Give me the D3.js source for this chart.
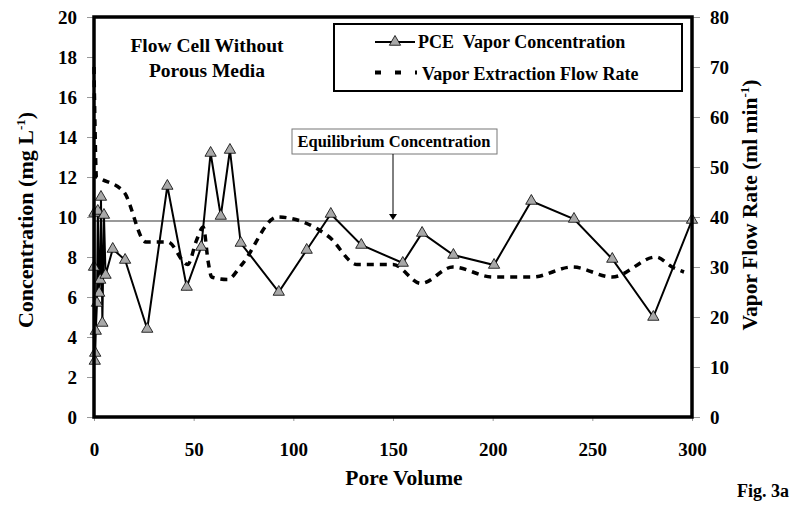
<!DOCTYPE html>
<html><head><meta charset="utf-8">
<script src="https://cdn.jsdelivr.net/npm/d3@7"></script>
<style>body{margin:0;background:#fff}svg{display:block}</style>
</head><body>
<svg id="c" width="800" height="510" style="font-family:'Liberation Serif','Times New Roman',Tinos,'DejaVu Serif',serif;font-weight:bold"></svg>
<script>
// PCE vapor concentration (mg/L) vs pore volume
const pceX = [0.0,0.2,0.4,0.6,0.9,1.5,1.9,2.6,3.1,3.5,4.2,5.0,5.8,9.4,15.6,26.7,36.8,46.5,53.8,58.5,63.6,68.2,73.6,92.7,106.7,118.8,134.1,154.9,164.6,180.3,200.7,219.4,240.8,260.0,280.6,300.0];
const pceY = [7.5,10.2,2.8,3.2,4.3,5.7,10.3,6.2,6.85,11.0,4.7,10.1,7.1,8.4,7.85,4.4,11.55,6.5,8.5,13.2,10.05,13.35,8.7,6.25,8.35,10.15,8.6,7.7,9.2,8.1,7.6,10.8,9.9,7.9,5.0,9.85];
// Vapor extraction flow rate (ml/min)
const flowX = [0,0.5,1.2,4,15,26,37,47,51.5,54.8,57.3,59,67,74,92,118,132,150,164,180,200,220,240,260,282,290,296];
const flowY = [70,58,48,47.5,45,35,35,30.5,35.4,38,31,28,27.5,30.4,40,36,30.5,30.5,26.7,30,28,28,30,28,32,30,29];
const equilibrium = 9.8;
const xTicks = [0,50,100,150,200,250,300];
const yTicks = [0,2,4,6,8,10,12,14,16,18,20];
const y2Ticks = [0,10,20,30,40,50,60,70,80];

const FONT = "'Liberation Serif','Times New Roman',Tinos,'DejaVu Serif',serif";
const svg = d3.select("#c");
const L=94,R=692,T=17,B=417;
const x = d3.scaleLinear().domain([0,300]).range([L,R]);
const y = d3.scaleLinear().domain([0,20]).range([B,T]);
const y2 = d3.scaleLinear().domain([0,80]).range([B,T]);

function txt(sel){ return sel.attr("font-family",FONT).attr("font-weight","bold").attr("fill","#000"); }

// axes
const ax = svg.append("g").attr("transform",`translate(0,${B})`).call(d3.axisBottom(x).tickValues(xTicks).tickSize(4).tickPadding(22));
const ay = svg.append("g").attr("transform",`translate(${L},0)`).call(d3.axisLeft(y).tickValues(yTicks).tickSize(7).tickPadding(10));
const ay2 = svg.append("g").attr("transform",`translate(${R},0)`).call(d3.axisRight(y2).tickValues(y2Ticks).tickSize(8).tickPadding(10));
[ax,ay,ay2].forEach(g=>{g.attr("font-family",FONT).attr("font-weight","bold").attr("font-size",19);g.select(".domain").remove();g.selectAll(".tick line").attr("stroke","#999");});

// equilibrium line
svg.append("line").attr("x1",L).attr("x2",R).attr("y1",y(equilibrium)).attr("y2",y(equilibrium)).attr("stroke","#777").attr("stroke-width",1.5);

// flow dashed line
const flow = flowX.map((d,i)=>[d,flowY[i]]);
svg.append("path").datum(flow).attr("fill","none").attr("stroke","#000").attr("stroke-width",3.5).attr("stroke-dasharray","7,6")
  .attr("d",d3.line().x(d=>x(d[0])).y(d=>y2(d[1])).curve(d3.curveMonotoneX));

// PCE line
const pce = pceX.map((d,i)=>[d,pceY[i]]);
svg.append("path").datum(pce).attr("fill","none").attr("stroke","#000").attr("stroke-width",2)
  .attr("d",d3.line().x(d=>x(d[0])).y(d=>y(d[1])));
const tri = d3.symbol().type(d3.symbolTriangle).size(55);
svg.selectAll(".pt").data(pce).join("path").attr("class","pt")
  .attr("transform",d=>`translate(${x(d[0])},${y(d[1])})`).attr("d",tri).attr("fill","#a8a8a8").attr("stroke","#000").attr("stroke-width",0.8);

// frame
svg.append("rect").attr("x",L).attr("y",T).attr("width",R-L).attr("height",B-T).attr("fill","none").attr("stroke","#000").attr("stroke-width",3.5);

// title
txt(svg.append("text")).attr("x",207).attr("y",52).attr("text-anchor","middle").attr("font-size",19.5).text("Flow Cell Without");
txt(svg.append("text")).attr("x",207).attr("y",77).attr("text-anchor","middle").attr("font-size",19.5).text("Porous Media");

// legend
svg.append("rect").attr("x",334).attr("y",24).attr("width",348).attr("height",67).attr("fill","#fff").attr("stroke","#000").attr("stroke-width",2);
svg.append("line").attr("x1",375).attr("x2",415).attr("y1",42).attr("y2",42).attr("stroke","#000").attr("stroke-width",2);
svg.append("path").attr("transform","translate(395,42)").attr("d",tri).attr("fill","#a8a8a8").attr("stroke","#000").attr("stroke-width",0.8);
txt(svg.append("text")).attr("x",418).attr("y",48).attr("font-size",18).attr("xml:space","preserve").style("white-space","pre").text("PCE  Vapor Concentration");
svg.append("line").attr("x1",375).attr("x2",417).attr("y1",72.5).attr("y2",72.5).attr("stroke","#000").attr("stroke-width",4).attr("stroke-dasharray","6,14");
txt(svg.append("text")).attr("x",422).attr("y",80).attr("font-size",18).text("Vapor Extraction Flow Rate");

// equilibrium annotation
svg.append("rect").attr("x",292).attr("y",129).attr("width",205).attr("height",25).attr("fill","#fff").attr("stroke","#777").attr("stroke-width",1);
txt(svg.append("text")).attr("x",394).attr("y",147).attr("text-anchor","middle").attr("font-size",16.5).text("Equilibrium Concentration");
svg.append("line").attr("x1",393).attr("x2",393).attr("y1",154).attr("y2",y(equilibrium)-6).attr("stroke","#000").attr("stroke-width",1);
svg.append("path").attr("d",`M389,${y(equilibrium)-7}L397,${y(equilibrium)-7}L393,${y(equilibrium)-1}Z`).attr("fill","#000");

// axis titles
const yl = txt(svg.append("text")).attr("transform","translate(33,220) rotate(-90)").attr("text-anchor","middle").attr("font-size",22);
yl.append("tspan").text("Concentration (mg L");
yl.append("tspan").attr("dy",-8).attr("font-size",13).text("-1");
yl.append("tspan").attr("dy",8).text(")");
const yr = txt(svg.append("text")).attr("transform","translate(757,205) rotate(-90)").attr("text-anchor","middle").attr("font-size",21.5);
yr.append("tspan").text("Vapor Flow Rate (ml min");
yr.append("tspan").attr("dy",-8).attr("font-size",13).text("-1");
yr.append("tspan").attr("dy",8).text(")");
txt(svg.append("text")).attr("x",404).attr("y",485).attr("text-anchor","middle").attr("font-size",21.5).text("Pore Volume");
txt(svg.append("text")).attr("x",737).attr("y",497).attr("font-size",18).text("Fig. 3a");
</script>
</body></html>
